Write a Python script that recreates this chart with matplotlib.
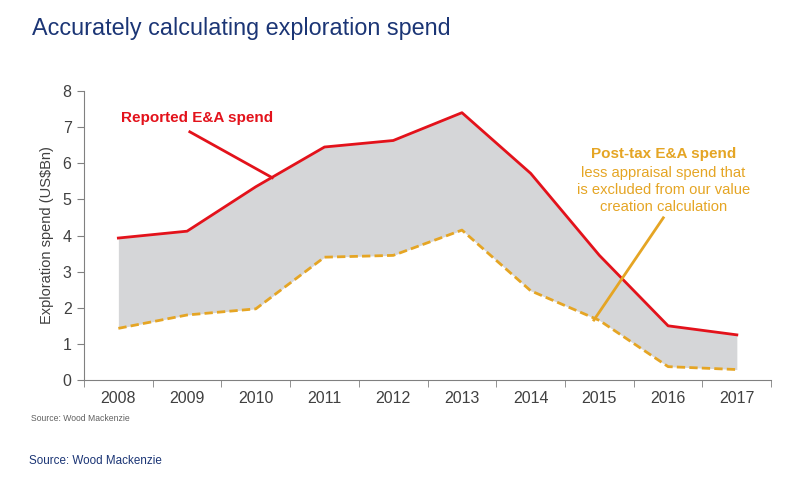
import numpy as np
import matplotlib.pyplot as plt

plt.rcParams['font.family'] = ['Liberation Sans', 'DejaVu Sans']

years = ['2008', '2009', '2010', '2011', '2012', '2013', '2014', '2015', '2016', '2017']
reported = [3.93, 4.12, 5.35, 6.45, 6.63, 7.40, 5.72, 3.45, 1.50, 1.25]
post_tax = [1.43, 1.80, 1.97, 3.40, 3.45, 4.15, 2.47, 1.65, 0.37, 0.29]

red = '#E3121B'
gold = '#E5A524'
grey = '#D5D6D8'
navy = '#1B3575'
txt = '#404040'

fig = plt.figure(figsize=(8, 4.8), dpi=100)
ax = fig.add_axes([0.105, 0.2083, 0.859, 0.6021])

x = np.arange(len(years))
ax.fill_between(x, post_tax, reported, color=grey, lw=0, zorder=1)
ax.plot(x, reported, color=red, lw=2, zorder=3)
ax.plot(x, post_tax, color=gold, lw=2, ls=(0, (3, 1.5)), zorder=3)

ax.set_xlim(-0.5, len(years) - 0.5)
ax.set_ylim(0, 8)
ax.set_xticks(x)
ax.set_xticklabels(years)
ax.set_xticks(np.arange(-0.5, len(years)), minor=True)
ax.tick_params(axis='x', which='major', length=0, pad=8, labelsize=11.5, labelcolor=txt)
ax.tick_params(axis='x', which='minor', length=5, color='#808080')
ax.set_yticks(range(0, 9))
ax.tick_params(axis='y', length=5, color='#808080', labelsize=11.5, labelcolor=txt, pad=4)
for s in ['top', 'right']:
    ax.spines[s].set_visible(False)
for s in ['left', 'bottom']:
    ax.spines[s].set_color('#808080')
ax.set_ylabel('Exploration spend (US$Bn)', fontsize=10.5, color=txt, labelpad=6)

# annotations
ax.text(1.14, 7.26, 'Reported E&A spend', color=red, fontsize=11, fontweight='bold',
        ha='center', va='center')
ax.plot([1.04, 2.24], [6.87, 5.6], color=red, lw=2, zorder=4)

ax.text(7.93, 6.26, 'Post-tax E&A spend', color=gold, fontsize=11, fontweight='bold',
        ha='center', va='center')
sub_lines = ['less appraisal spend that', 'is excluded from our value', 'creation calculation']
for i, line in enumerate(sub_lines):
    ax.text(7.93, 5.73 - 0.47 * i, line, color=gold, fontsize=10.6, ha='center', va='center')
ax.plot([7.93, 6.92], [4.49, 1.66], color=gold, lw=2, zorder=4)

fig.text(0.04, 0.94, 'Accurately calculating exploration spend', color=navy, fontsize=16.8,
         va='center', ha='left')
fig.text(0.039, 0.129, 'Source: Wood Mackenzie', color='#606060', fontsize=6.2, va='center')
fig.text(0.036, 0.04, 'Source: Wood Mackenzie', color=navy, fontsize=8.4, va='center')

fig.savefig('out.png', dpi=100)
